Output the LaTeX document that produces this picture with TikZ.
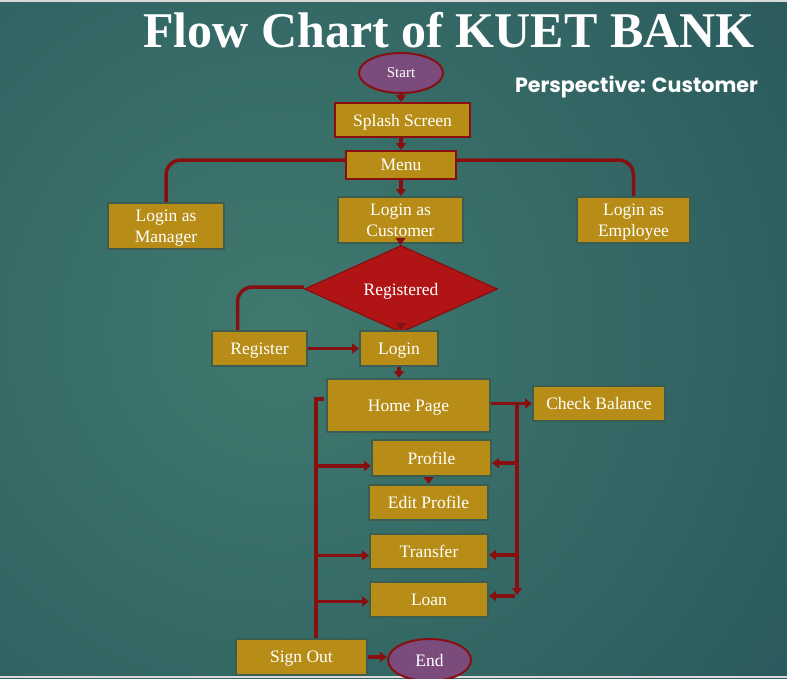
\documentclass[tikz,border=0pt]{standalone}
\usepackage{fontspec}
\setmainfont{Liberation Serif}
\newfontfamily\perspfont{Poppins}
\usetikzlibrary{shapes.geometric,arrows.meta}
\definecolor{bglight}{HTML}{40796F}
\definecolor{bgdark}{HTML}{1D4752}
\definecolor{gold}{HTML}{B78D17}
\definecolor{boxline}{HTML}{3C5E50}
\definecolor{conred}{HTML}{861010}
\definecolor{purp}{HTML}{7B4B7B}
\definecolor{diared}{HTML}{B01414}
\tikzset{
  boxtxt/.style={text=white, font=\fontsize{17.5}{21}\selectfont, align=center, inner sep=0pt, text depth=0pt},
  box/.style={boxtxt, rectangle, fill=gold, draw=boxline, line width=2pt},
  redbox/.style={boxtxt, rectangle, fill=gold, draw=conred, line width=2pt},
  oval/.style={boxtxt, ellipse, fill=purp, draw=conred, line width=2pt},
  dia/.style={boxtxt, diamond, fill=diared, draw=conred, line width=1.2pt},
  conn/.style={draw=conred, line width=3.5pt},
  arr/.style={conn, -{Triangle[width=10pt,length=7pt]}},
}
\begin{document}
\begin{tikzpicture}[x=1pt,y=-1pt]
\useasboundingbox (0,0) rectangle (787,678);
% background
\fill[bgdark] (0,0) rectangle (787,678);
\begin{scope}
  \clip (0,0) rectangle (787,678);
  \shade[inner color=bglight, outer color=bgdark] (280,330) circle (1000);
\end{scope}
\fill[gray!30] (0,0) rectangle (787,2);
\fill[gray!30] (0,676) rectangle (787,678);
% titles
\node[anchor=base, text=white, font=\fontsize{50}{56}\selectfont\bfseries, inner sep=0pt] (title) at (449,47) {Flow Chart of KUET BANK};
\node[anchor=base, text=white, inner sep=0pt] (persp) at (636.5,92) {\resizebox{243pt}{!}{\perspfont\bfseries Perspective: Customer}};
% nodes
\node[oval, minimum width=84, minimum height=40, font=\fontsize{15}{18}\selectfont] (start) at (401,73) {Start};
\node[redbox, minimum width=135, minimum height=34] (splash) at (402.5,120) {Splash Screen};
\node[redbox, minimum width=110, minimum height=28] (menu) at (401,165) {Menu};
\node[box, minimum width=116, minimum height=46] (mgr) at (166,226) {Login as\\Manager};
\node[box, minimum width=125, minimum height=46] (cust) at (400.5,220) {Login as\\Customer};
\node[box, minimum width=113, minimum height=46] (emp) at (633.5,220) {Login as\\Employee};
\node[dia, minimum width=193, minimum height=74] (reg?) at (401,289) {Registered};
\node[box, minimum width=95, minimum height=35] (register) at (259.5,348.5) {Register};
\node[box, minimum width=78, minimum height=35] (login) at (399,348.5) {Login};
\node[box, minimum width=163, minimum height=53] (home) at (408.5,405.5) {Home Page};
\node[box, minimum width=132, minimum height=35] (check) at (599,403.5) {Check Balance};
\node[box, minimum width=119, minimum height=36] (profile) at (431.5,458) {Profile};
\node[box, minimum width=119, minimum height=35] (edit) at (428.5,502.5) {Edit Profile};
\node[box, minimum width=118, minimum height=35] (transfer) at (429,551.5) {Transfer};
\node[box, minimum width=118, minimum height=35] (loan) at (429,599.5) {Loan};
\node[box, minimum width=131, minimum height=36] (signout) at (301.5,657) {Sign Out};
\node[oval, minimum width=83, minimum height=42] (end) at (429.5,660) {End};
% connectors
\draw[arr] (start.south) -- (start.south |- splash.north);
\draw[arr] (menu.north |- splash.south) -- (menu.north);
\draw[arr] (menu.south) -- (menu.south |- cust.north);
\draw[conn, rounded corners=15pt] ([yshift=5pt]menu.west) -| (mgr.north);
\draw[conn, rounded corners=15pt] ([yshift=5pt]menu.east) -| (emp.north);
\draw[arr] (cust.south) -- (cust.south |- reg?.north);
\draw[conn, rounded corners=15pt] ([yshift=2pt]reg?.west) -| ([xshift=-22pt]register.north);
\draw[arr] ([yshift=8pt]reg?.south) -- (reg?.south |- login.north);
\draw[arr] (register.east) -- (login.west);
\draw[arr] (login.south) -- (login.south |- home.north);
\draw[arr] (home.east |- check.west) -- (check.west);
% right bus
\coordinate (rtop) at (517,403.5);
\coordinate (rbot) at (517,595);
\draw[arr] (rtop) -- (rbot);
\coordinate (pR) at ([yshift=-5pt]profile.east);
\coordinate (tR) at ([yshift=-3.5pt]transfer.east);
\coordinate (lR) at ([yshift=3.5pt]loan.east);
\draw[arr] (rtop |- pR) -- (pR);
\draw[arr] (rtop |- tR) -- (tR);
\draw[arr] ([xshift=-2pt]rtop |- lR) -- (lR);
\draw[arr] (profile.south -| edit.north) -- (edit.north);
% left bus
\coordinate (ltop) at (316,399);
\draw[conn] ([xshift=8pt]ltop) -- (ltop) -- (ltop |- signout.north);
\coordinate (pL) at ([yshift=-8pt]profile.west);
\coordinate (tL) at ([yshift=-4pt]transfer.west);
\coordinate (lL) at ([yshift=-2pt]loan.west);
\draw[arr] (ltop |- pL) -- (pL);
\draw[arr] (ltop |- tL) -- (tL);
\draw[arr] (ltop |- lL) -- (lL);
\draw[arr] (signout.east) -- (signout.east -| end.west);
\end{tikzpicture}
\end{document}
